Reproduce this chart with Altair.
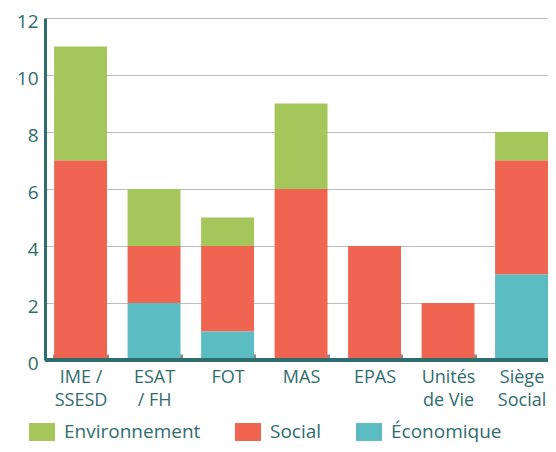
import json
import altair as alt
import pandas as pd

categories = ["IME / SSESD", "ESAT / FH", "FOT", "MAS", "EPAS", "Unités de Vie", "Siège Social"]
environnement = [4, 2, 1, 3, 0, 0, 1]
social = [7, 2, 3, 6, 4, 2, 4]
economique = [0, 2, 1, 0, 0, 0, 3]

series_names = ["Environnement", "Social", "Économique"]
series_colors = ["#a5c65b", "#f06452", "#5bbcc1"]
stack_rank = {"Économique": 0, "Social": 1, "Environnement": 2}

label_lines = {
    "IME / SSESD": ["IME /", "SSESD"],
    "ESAT / FH": ["ESAT", "/ FH"],
    "Unités de Vie": ["Unités", "de Vie"],
    "Siège Social": ["Siège", "Social"],
}

rows = []
for i, c in enumerate(categories):
    for name, vals in zip(series_names, [environnement, social, economique]):
        if vals[i] > 0:
            rows.append({"cat": c, "serie": name, "val": vals[i], "ord": stack_rank[name]})
df = pd.DataFrame(rows)

TEAL = "#2e6d6e"
FONT = "Open Sans"

label_expr = "(" + json.dumps(label_lines) + ")[datum.label] || datum.label"

x = alt.X(
    "cat:N",
    sort=categories,
    scale=alt.Scale(paddingInner=0.28, paddingOuter=0.062, align=1),
    axis=alt.Axis(
        title=None,
        labelAngle=0,
        labelFont=FONT,
        labelFontSize=18,
        labelColor=TEAL,
        labelLineHeight=23,
        labelPadding=8,
        labelExpr=label_expr,
        domain=False,
        ticks=True,
        tickBand="extent",
        tickColor="#8a8a8a",
        tickWidth=3,
        tickSize=6,
        offset=-6,
        grid=False,
    ),
)

y = alt.Y(
    "val:Q",
    stack="zero",
    scale=alt.Scale(domain=[0, 12], nice=False),
    axis=alt.Axis(
        title=None,
        values=list(range(0, 13)),
        labelExpr="datum.value % 2 == 0 ? datum.label : ''",
        labelFont=FONT,
        labelFontSize=19,
        labelColor=TEAL,
        labelPadding=7,
        labelOffset=3,
        ticks=False,
        domainColor=TEAL,
        domainWidth=3,
        gridColor="#bdbdbd",
        gridWidth=1,
    ),
)

bars = alt.Chart(df).mark_bar(opacity=1).encode(
    x=x,
    y=y,
    color=alt.Color(
        "serie:N",
        scale=alt.Scale(domain=series_names, range=series_colors),
        legend=alt.Legend(
            title=None,
            orient="none",
            legendX=-16,
            legendY=401,
            direction="horizontal",
            columns=3,
            columnPadding=34,
            symbolType="M-1,-0.69H1V0.69H-1Z",
            symbolSize=676,
            symbolStrokeWidth=0,
            symbolOpacity=1,
            labelFont=FONT,
            labelFontSize=19,
            labelColor=TEAL,
            labelOffset=9,
            padding=0,
        ),
    ),
    order=alt.Order("ord:Q", sort="ascending"),
)

baseline = alt.Chart(df).mark_rule(color=TEAL, strokeWidth=3).encode(y=alt.datum(0))

chart = (
    alt.layer(bars, baseline)
    .properties(
        width=503,
        height=342,
        autosize=alt.AutoSizeParams(type="none"),
        padding={"left": 37, "top": 10, "right": 0, "bottom": 84},
    )
    .configure_view(stroke=None)
)

chart.save("out.html", embed_options={"renderer": "svg", "actions": False})
